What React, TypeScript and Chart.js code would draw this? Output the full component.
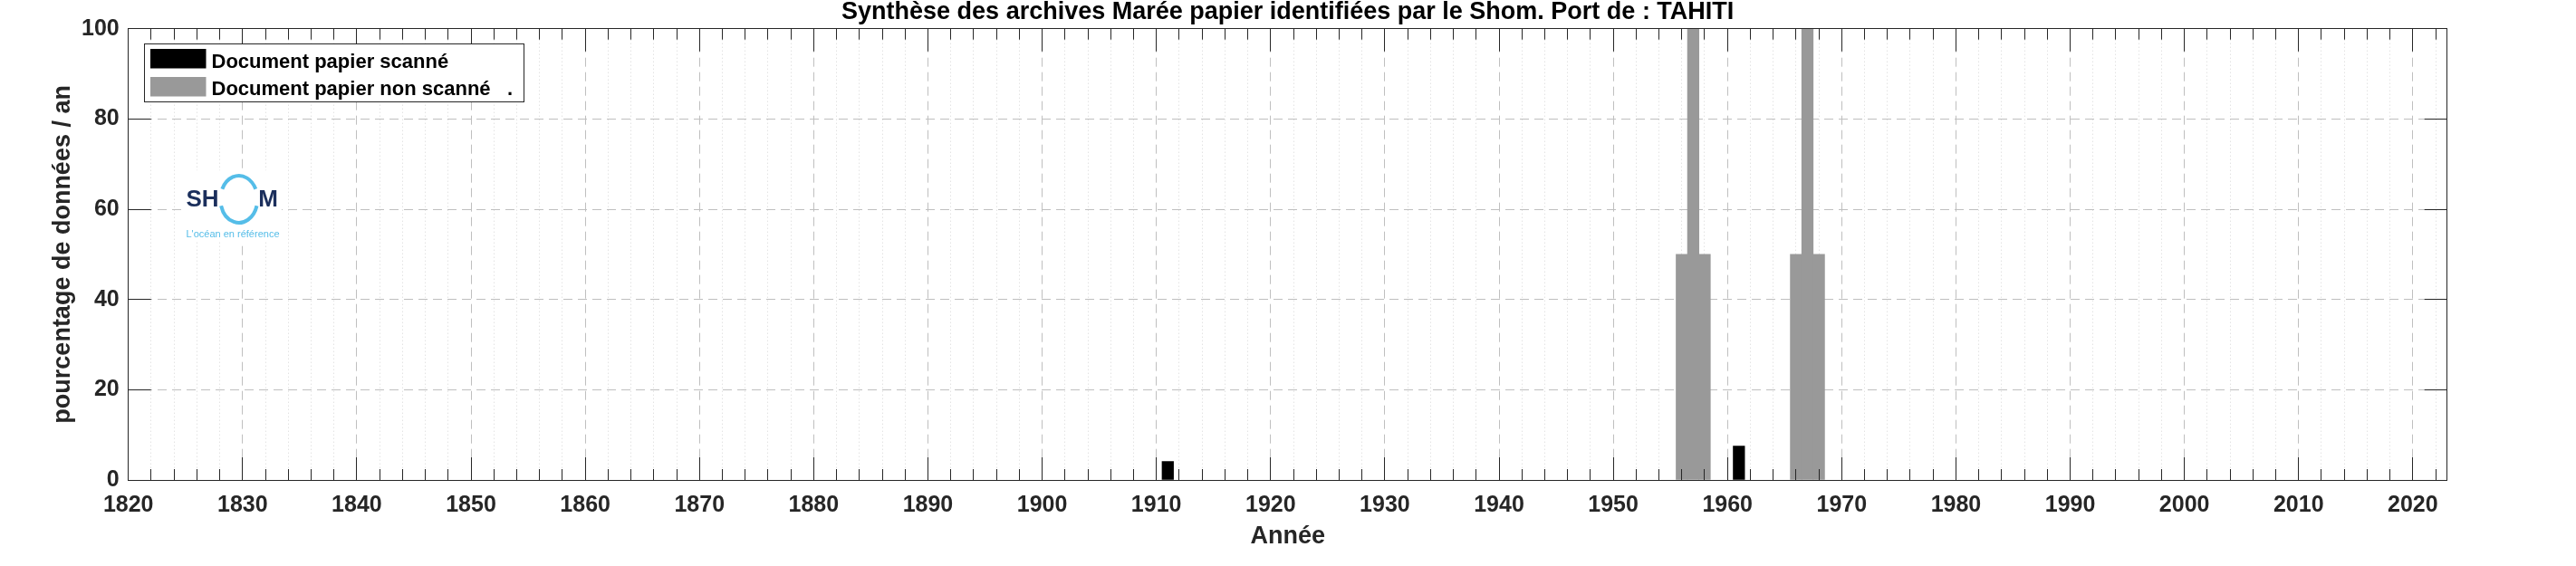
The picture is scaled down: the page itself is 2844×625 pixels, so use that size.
import React, { useEffect, useRef } from 'react';
import { Chart, registerables } from 'chart.js';

Chart.register(...registerables);

// ---------- data ----------
const TITLE = 'Synthèse des archives Marée papier identifiées par le Shom. Port de : TAHITI';
const X_LABEL = 'Année';
const Y_LABEL = 'pourcentage de données / an';
const SCANNED_LABEL = 'Document papier scanné';
const UNSCANNED_LABEL = 'Document papier non scanné   .';

const scannedYears = [1911, 1961];
const scannedValues = [4.1, 7.5];

const unscannedYears = [1956, 1957, 1958, 1966, 1967, 1968];
const unscannedValues = [50, 100, 50, 50, 100, 50];

const X_MIN = 1820;
const X_MAX = 2023;
const X_MINOR_STEP = 2;
const X_MAJOR_STEP = 10;
const Y_MIN = 0;
const Y_MAX = 100;
const Y_STEP = 20;

const LOGO_LEFT = 'SH';
const LOGO_RIGHT = 'M';
const LOGO_TAGLINE = "L'océan en référence";

// ---------- styles ----------
const FONT = "'Liberation Sans', Arial, Helvetica, sans-serif";
const AXIS_COLOR = '#262626';
const SCANNED_COLOR = '#000000';
const UNSCANNED_COLOR = '#999999';

const align = (v: number) => Math.round(v - 0.5) + 0.5;

const decorPlugin = {
  id: 'decor',
  beforeDatasetsDraw(chart: any) {
    const { ctx, chartArea: a } = chart;
    // SHOM logo
    const bx = a.left + 58.3;
    const by = a.top + 156.5;
    ctx.save();
    ctx.fillStyle = '#ffffff';
    ctx.fillRect(bx, by, 111, 78);
    const navy = '#1b2f5c';
    const sky = '#55bde8';
    ctx.fillStyle = navy;
    ctx.font = `bold 26px ${FONT}`;
    ctx.textBaseline = 'alphabetic';
    ctx.textAlign = 'left';
    ctx.fillText(LOGO_LEFT, bx + 5.5, by + 39.5);
    ctx.textAlign = 'right';
    ctx.fillText(LOGO_RIGHT, bx + 107, by + 39.5);
    // ring
    ctx.strokeStyle = sky;
    ctx.lineWidth = 4;
    const cx = bx + 63.8;
    const cy = by + 31.8;
    ctx.beginPath();
    ctx.ellipse(cx, cy, 20.5, 26, 0, Math.PI + 0.45, 2 * Math.PI - 0.45);
    ctx.stroke();
    ctx.beginPath();
    ctx.ellipse(cx, cy, 20.5, 26, 0, 0.28, Math.PI - 0.28);
    ctx.stroke();
    ctx.fillStyle = sky;
    ctx.font = `11px ${FONT}`;
    ctx.textAlign = 'center';
    ctx.fillText(LOGO_TAGLINE, bx + 57, by + 74);
    ctx.restore();
  },
  afterDatasetsDraw(chart: any) {
    const { ctx, chartArea: a, scales } = chart;
    const xs = scales.x;
    const ys = scales.y;
    ctx.save();
    ctx.strokeStyle = AXIS_COLOR;
    ctx.lineWidth = 1;
    ctx.beginPath();
    for (let v = X_MIN; v <= X_MAX; v += X_MINOR_STEP) {
      const px = align(xs.getPixelForValue(v));
      const len = v % X_MAJOR_STEP === 0 ? 25 : 12;
      ctx.moveTo(px, a.bottom);
      ctx.lineTo(px, a.bottom - len);
      ctx.moveTo(px, a.top);
      ctx.lineTo(px, a.top + len);
    }
    for (let v = Y_MIN; v <= Y_MAX; v += Y_STEP) {
      const py = align(ys.getPixelForValue(v));
      ctx.moveTo(a.left, py);
      ctx.lineTo(a.left + 25, py);
      ctx.moveTo(a.right, py);
      ctx.lineTo(a.right - 25, py);
    }
    ctx.stroke();
    // axes box
    const l = align(a.left);
    const t = align(a.top);
    const r = align(a.right);
    const b = align(a.bottom);
    ctx.strokeRect(l, t, r - l, b - t);

    // legend
    const lx = align(a.left + 17.6);
    const ly = align(a.top + 17);
    const lw = 419;
    const lh = 64;
    ctx.fillStyle = '#ffffff';
    ctx.fillRect(lx, ly, lw, lh);
    ctx.strokeStyle = AXIS_COLOR;
    ctx.strokeRect(lx, ly, lw, lh);
    ctx.font = `bold 22px ${FONT}`;
    ctx.textAlign = 'left';
    ctx.textBaseline = 'alphabetic';
    chart.data.datasets.forEach((ds: any, i: number) => {
      ctx.fillStyle = ds.backgroundColor;
      ctx.fillRect(lx + 6.5, ly + 5.5 + i * 31, 61.5, 21.5);
      ctx.fillStyle = '#000000';
      ctx.fillText(ds.label, lx + 74, ly + 26.5 + i * 30);
    });
    ctx.restore();
  },
};

export default function App() {
  const ref = useRef<HTMLCanvasElement>(null);
  useEffect(() => {
    document.body.style.margin = '0';
    const canvas = ref.current!;
    const chart = new Chart(canvas, {
      type: 'bar',
      data: {
        datasets: [
          {
            label: SCANNED_LABEL,
            data: scannedYears.map((x, i) => ({ x, y: scannedValues[i] })),
            backgroundColor: SCANNED_COLOR,
            borderWidth: 0,
            grouped: false,
            barPercentage: 1,
            categoryPercentage: 1,
          },
          {
            label: UNSCANNED_LABEL,
            data: unscannedYears.map((x, i) => ({ x, y: unscannedValues[i] })),
            backgroundColor: UNSCANNED_COLOR,
            borderWidth: 0,
            grouped: false,
            barPercentage: 1,
            categoryPercentage: 1,
          },
        ],
      } as any,
      plugins: [decorPlugin],
      options: {
        responsive: false,
        animation: false,
        devicePixelRatio: 1,
        layout: { padding: { left: 0, right: 142.3, top: 0, bottom: 0 } },
        plugins: {
          legend: { display: false },
          tooltip: { enabled: false },
          title: {
            display: true,
            fullSize: false,
            text: TITLE,
            color: '#000000',
            font: { family: FONT, size: 27, weight: 'bold', lineHeight: 1 },
            padding: { top: 0, bottom: 4.7 },
          },
        },
        scales: {
          x: {
            type: 'linear',
            min: X_MIN,
            max: X_MAX,
            offset: false,
            afterFit: (s: any) => {
              s.height = 95;
            },
            grid: {
              offset: false,
              drawTicks: false,
              lineWidth: 1,
              color: (c: any) =>
                c.tick && c.tick.value % X_MAJOR_STEP === 0 ? '#bfbfbf' : '#d6d6d6',
            },
            border: {
              display: false,
              dash: (c: any) =>
                c.tick && c.tick.value % X_MAJOR_STEP === 0 ? [10, 6] : [1, 3],
            },
            ticks: {
              stepSize: X_MINOR_STEP,
              autoSkip: false,
              includeBounds: false,
              maxRotation: 0,
              minRotation: 0,
              padding: 13.5,
              color: AXIS_COLOR,
              font: { family: FONT, size: 25, weight: 'bold' },
              callback: (v: any) => (v % X_MAJOR_STEP === 0 ? String(v) : ''),
            },
            title: {
              display: true,
              text: X_LABEL,
              color: AXIS_COLOR,
              font: { family: FONT, size: 27, weight: 'bold', lineHeight: 1.2 },
              padding: { top: 0, bottom: 15.8 },
            },
          },
          y: {
            type: 'linear',
            min: Y_MIN,
            max: Y_MAX,
            afterFit: (s: any) => {
              s.width = 141.7;
            },
            grid: {
              drawTicks: false,
              lineWidth: 1,
              color: '#bfbfbf',
            },
            border: { display: false, dash: [10, 6] },
            ticks: {
              stepSize: Y_STEP,
              padding: 10,
              color: AXIS_COLOR,
              font: { family: FONT, size: 25, weight: 'bold' },
              callback: (v: any) => String(v),
            },
            title: {
              display: true,
              text: Y_LABEL,
              color: AXIS_COLOR,
              font: { family: FONT, size: 27, weight: 'bold', lineHeight: 1.2 },
              padding: { top: 53.8, bottom: 0 },
            },
          },
        },
      } as any,
    });
    return () => chart.destroy();
  }, []);
  return (
    <div style={{ position: 'absolute', left: 0, top: 0, width: 2844, height: 625, background: '#ffffff' }}>
      <canvas ref={ref} width={2844} height={625} style={{ display: 'block', width: 2844, height: 625 }} />
    </div>
  );
}
